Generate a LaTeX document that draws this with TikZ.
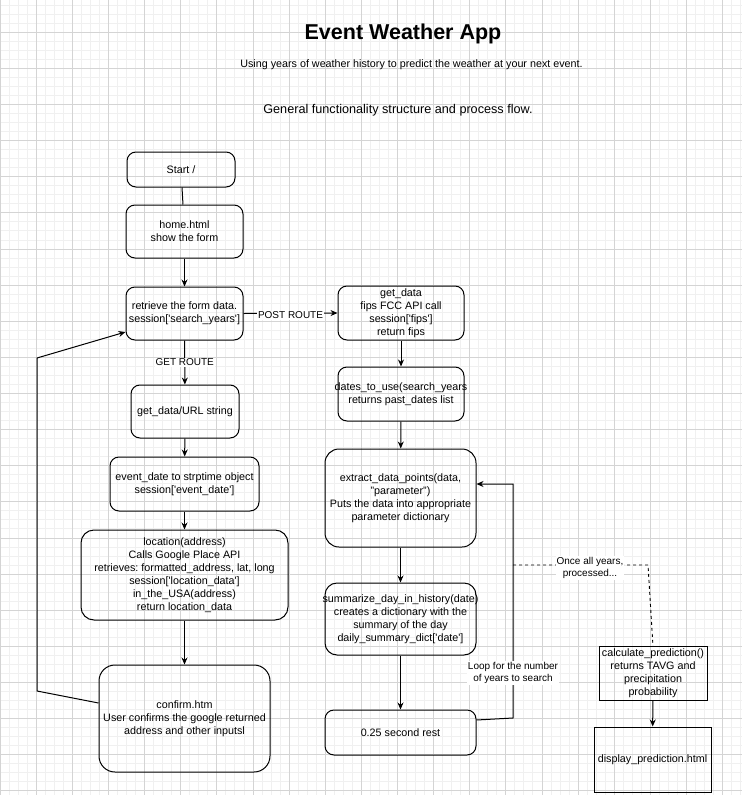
\documentclass[tikz,border=0pt]{standalone}
\usepackage{fontspec}
\setmainfont{Liberation Sans}
\usetikzlibrary{arrows.meta}
\newcommand\sq{\textquotesingle}
\frenchspacing
\begin{document}
\begin{tikzpicture}[x=1pt,y=-1pt,
  box/.style={draw, line width=1pt, rounded corners=9pt, align=center, inner sep=2pt, font=\fontsize{10.75}{13}\selectfont},
  sqbox/.style={draw, line width=1pt, align=center, inner sep=2pt, font=\fontsize{10.75}{13}\selectfont},
  arr/.style={line width=1pt, -{Stealth[length=7pt,width=6pt]}},
  plain/.style={line width=1pt},
  lbl/.style={fill=white, inner sep=1pt, align=center, font=\fontsize{10}{12}\selectfont},
  minorline/.style={draw=black!6, line width=0.6pt},
  majorline/.style={draw=black!17, line width=0.6pt}]
\useasboundingbox (0,0) rectangle (742,795);
\fill[white] (0,0) rectangle (742,795);
% grid
\foreach \i in {0,...,83} {\draw[minorline] (\i*9.03,0) -- (\i*9.03,795);}
\foreach \i in {0,...,89} {\draw[minorline] (0,\i*9.03-4) -- (742,\i*9.03-4);}
\foreach \i in {0,...,21} {\draw[majorline] (\i*36.12,0) -- (\i*36.12,795);}
\foreach \i in {0,...,22} {\draw[majorline] (0,\i*36.12-4) -- (742,\i*36.12-4);}

% titles
\node[font=\bfseries\fontsize{21.5}{24}\selectfont] (title) at (403,34) {Event Weather App};
\node[font=\fontsize{10.75}{13}\selectfont] (sub) at (411.5,65) {Using years of weather history to predict the weather at your next event.};
\node[font=\fontsize{12.65}{15}\selectfont] (gen) at (398,110) {General functionality structure and process flow.};

% left column
\node[box, minimum width=108pt, minimum height=35pt] (start) at (181,169.5) {Start /};
\node[box, minimum width=117pt, minimum height=53pt] (home) at (184.5,231.5) {home.html\\show the form};
\node[box, minimum width=117pt, minimum height=53pt] (retrieve) at (184.5,313.5) {retrieve the form data.\\session[\sq search\_years\sq]};
\node[box, minimum width=108pt, minimum height=53pt] (url) at (185,411.5) {get\_data/URL string};
\node[box, minimum width=149pt, minimum height=54pt] (eventdate) at (184.5,484) {event\_date to strptime object\\session[\sq event\_date\sq]};
\node[box, rounded corners=13pt, minimum width=207pt, minimum height=90pt] (location) at (184.5,575) {location(address)\\Calls Google Place API\\retrieves: formatted\_address, lat, long\\session[\sq location\_data\sq]\\in\_the\_USA(address)\\return location\_data};
\node[box, rounded corners=16pt, minimum width=171pt, minimum height=107pt] (confirm) at (184.5,718.5) {confirm.htm\\User confirms the google returned\\address and other inputsl};

% middle column
\node[box, minimum width=126pt, minimum height=54pt] (getdata) at (401,313) {get\_data\\fips FCC API call\\session[\sq fips\sq]\\return fips};
\node[box, minimum width=126pt, minimum height=54pt] (dates) at (401,394) {\makebox[0pt]{dates\_to\_use(search\_years}\\returns past\_dates list};
\node[box, rounded corners=14pt, minimum width=151pt, minimum height=98pt] (extract) at (400.5,498) {extract\_data\_points(data,\\"parameter")\\Puts the data into appropriate\\parameter dictionary};
\node[box, rounded corners=12pt, minimum width=151pt, minimum height=72pt] (summarize) at (400.5,619) {\makebox[0pt]{summarize\_day\_in\_history(date)}\\creates a dictionary with the\\summary of the day\\daily\_summary\_dict[\sq date\sq]};
\node[box, minimum width=151pt, minimum height=45pt] (rest) at (400.5,732.5) {0.25 second rest};

% right column
\node[sqbox, minimum width=108pt, minimum height=53pt] (calc) at (653,673.5) {calculate\_prediction()\\returns TAVG and\\precipitation\\probability};
\node[sqbox, minimum width=117pt, minimum height=65pt] (display) at (652.5,759.5) {display\_prediction.html};

% connectors
\draw[plain] (start) -- (home);
\draw[arr] (home) -- (retrieve);
\draw[arr] (retrieve) -- node[lbl] {GET ROUTE} (url);
\draw[arr] (url) -- (eventdate);
\draw[arr] (eventdate) -- (location);
\draw[arr] (location) -- (confirm);
\draw[arr] (retrieve.east) -- node[lbl, yshift=-2pt] {POST ROUTE} (getdata.west);
\draw[arr] (getdata) -- (dates);
\draw[arr] (dates) -- (extract);
\draw[arr] (extract) -- (summarize);
\draw[arr] (summarize) -- (rest);
\draw[arr] (calc) -- (display);

% loop back to extract
\coordinate (l1) at (513,718);
\coordinate (l2) at (513,484);
\draw[arr] ([yshift=12.5pt]rest.east) -- (l1) -- (l2) -- (l2 -| extract.east);
\node[lbl] (looplbl) at (513,673) {Loop for the number\\of years to search};

% dashed to calculate
\coordinate (d0) at (513,565);
\coordinate (d1) at (648,565);
\draw[line width=0.9pt, dashed] (d0) -- (d1) -- (calc.north);
\node[lbl] (oncelbl) at (590,568) {Once all years,\\processed...};

% back edge from confirm to retrieve
\coordinate (b1) at (37,691);
\coordinate (b2) at (37,358);
\draw[arr] ([yshift=15.5pt]confirm.west) -- (b1) -- (b2) -- ([yshift=-18.5pt]retrieve.west);
\end{tikzpicture}
\end{document}
